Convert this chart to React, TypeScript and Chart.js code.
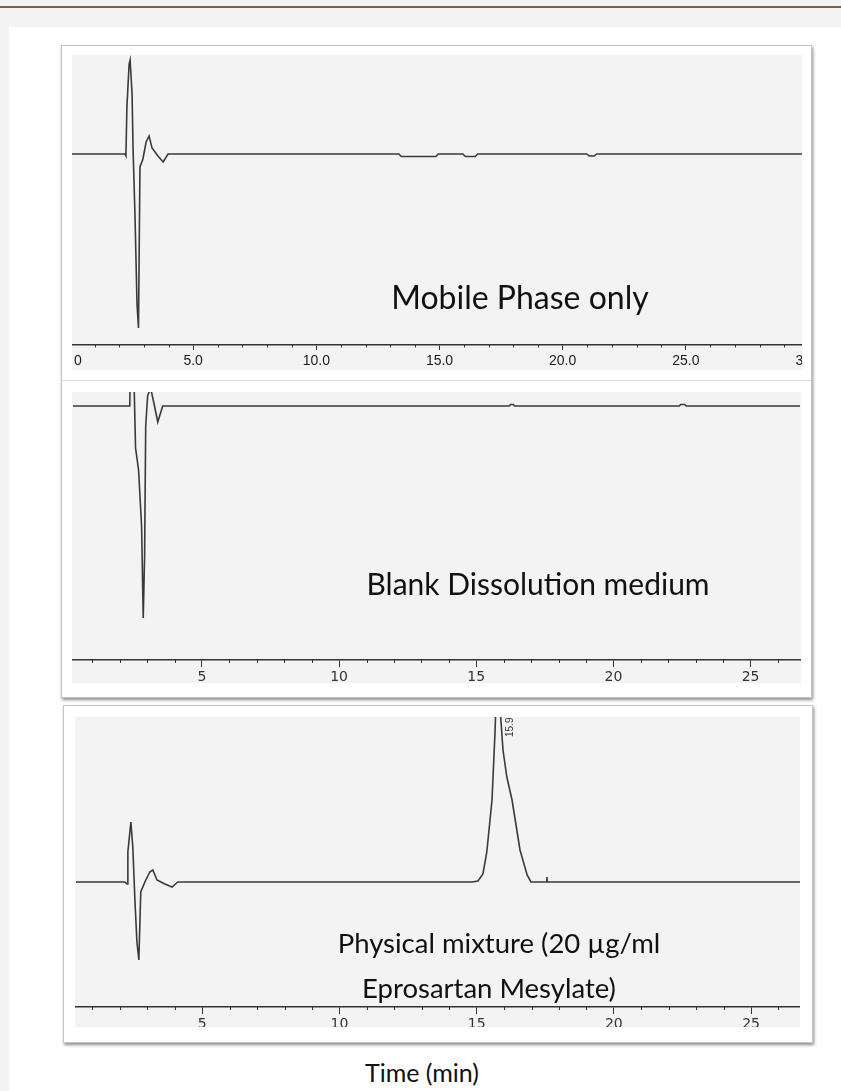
import React, { useEffect, useRef } from "react";
import { Chart, registerables } from "chart.js";

Chart.register(...registerables);

// ---------- DATA ----------
// Panel 1: Mobile Phase only (time in min, signal in detector units, baseline = 0)
const mobileTime = [0, 2.23, 2.27, 2.31, 2.4, 2.44, 2.52, 2.56, 2.64, 2.72, 2.78, 2.84, 2.96, 3.09, 3.21, 3.33, 3.57, 3.78, 3.98, 13.35, 13.45, 14.85, 14.95, 15.95, 16.05, 16.45, 16.55, 20.98, 21.08, 21.28, 21.38, 30];
const mobileSignal = [0, 0, -2, 47, 90, 94, 60, 5, -63, -150, -174, -13, -5, 12, 18, 6, -2, -8, 0, 0, -2.5, -2.5, 0, 0, -2.5, -2.5, 0, 0, -2, -2, 0, 0];
const mobileTicks = [0, 5, 10, 15, 20, 25, 30];

// Panel 2: Blank Dissolution medium
const blankTime = [0.3, 2.37, 2.4, 2.47, 2.58, 2.69, 2.8, 2.86, 2.91, 2.95, 3.02, 3.13, 3.24, 3.39, 3.57, 16.2, 16.25, 16.35, 16.4, 22.4, 22.45, 22.6, 22.65, 26.8];
const blankSignal = [0, 0, 80, 90, -42, -64, -120, -212, -150, -20, 10, 18, 4, -16, 0, 0, 1.5, 1.5, 0, 0, 1.5, 1.5, 0, 0];
const blankTicks = [5, 10, 15, 20, 25];

// Panel 3: Physical mixture (20 µg/ml Eprosartan Mesylate)
const mixTime = [0.4, 2.18, 2.26, 2.29, 2.4, 2.47, 2.55, 2.62, 2.69, 2.76, 2.91, 3.09, 3.2, 3.35, 3.64, 3.9, 4.11, 14.83, 15.05, 15.23, 15.37, 15.56, 15.67, 15.76, 15.85, 15.96, 16.1, 16.29, 16.58, 16.84, 16.98, 17.54, 17.56, 17.58, 26.82];
const mixSignal = [0, 0, -2, 30, 60, 35, -20, -60, -78, -10, 0, 10, 12, 2, -2, -5, 0, 0, 1, 8, 30, 82, 150, 225, 175, 132, 105, 82, 32, 7, 0, 0, 5, 0, 0];
const mixTicks = [5, 10, 15, 20, 25];
const mixPeakLabel = "15.9";
const mixPeakTime = 15.9;

// ---------- PLUGINS ----------
const minorTicksPlugin = {
  id: "minorTicks",
  afterDraw(chart: any, _args: any, opts: any) {
    const s = chart.scales.x;
    const ctx = chart.ctx;
    ctx.save();
    ctx.strokeStyle = opts.color || "#333";
    ctx.lineWidth = 1;
    for (let t = Math.ceil(s.min); t <= s.max + 1e-9; t++) {
      if (t % 5 === 0) continue;
      const x = Math.round(s.getPixelForValue(t)) + 0.5;
      ctx.beginPath();
      ctx.moveTo(x, s.top);
      ctx.lineTo(x, s.top + (opts.length || 3));
      ctx.stroke();
    }
    ctx.restore();
  },
};

const peakLabelPlugin = {
  id: "peakLabel",
  afterDatasetsDraw(chart: any, _args: any, opts: any) {
    if (!opts || !opts.text) return;
    const s = chart.scales.x;
    const ctx = chart.ctx;
    const x = s.getPixelForValue(opts.time) + (opts.dx || 0);
    const y = chart.chartArea.top + (opts.dy || 0);
    ctx.save();
    ctx.translate(x, y);
    ctx.rotate(-Math.PI / 2);
    ctx.font = opts.font || "10px 'Liberation Sans', Arial";
    ctx.fillStyle = opts.color || "#333";
    ctx.textAlign = "left";
    ctx.textBaseline = "middle";
    ctx.fillText(opts.text, 0, 0);
    ctx.restore();
  },
};

type PanelProps = {
  time: number[];
  signal: number[];
  ticks: number[];
  xMin: number;
  xMax: number;
  yMin: number;
  yMax: number;
  canvasLeft: number;
  canvasW: number;
  canvasH: number;
  axisH: number;
  majorLen: number;
  minorLen: number;
  tickPad: number;
  tickFont: any;
  tickColor: string;
  fmt: (v: number) => string;
  box: { left: number; top: number; width: number; height: number };
  peak?: any;
};

function Panel(p: PanelProps) {
  const ref = useRef<HTMLCanvasElement | null>(null);
  useEffect(() => {
    if (!ref.current) return;
    const isMajor = (v: number) => p.ticks.some((t) => Math.abs(t - v) < 1e-6);
    const chart = new Chart(ref.current, {
      type: "line",
      data: {
        datasets: [
          {
            data: p.time.map((t, i) => ({ x: t, y: p.signal[i] })),
            borderColor: "#3a3a3a",
            borderWidth: 1.6,
            pointRadius: 0,
            tension: 0,
            fill: false,
          },
        ],
      },
      options: {
        animation: false,
        responsive: false,
        maintainAspectRatio: false,
        layout: { padding: { left: 20, right: 20, top: 0, bottom: 0 } },
        plugins: {
          legend: { display: false },
          tooltip: { enabled: false },
          minorTicks: { color: "#333", length: p.minorLen },
          peakLabel: p.peak || {},
        } as any,
        scales: {
          x: {
            type: "linear",
            min: p.xMin,
            max: p.xMax,
            afterFit: (s: any) => {
              s.height = p.axisH;
              s.paddingLeft = 0;
              s.paddingRight = 0;
            },
            grid: {
              drawOnChartArea: false,
              drawTicks: true,
              tickLength: p.majorLen,
              tickWidth: 1,
              tickColor: (c: any) => (c.tick && isMajor(c.tick.value) ? "#333" : "rgba(0,0,0,0)"),
            },
            border: { display: true, color: "#333", width: 1.5 },
            ticks: {
              stepSize: 1,
              autoSkip: false,
              maxRotation: 0,
              minRotation: 0,
              padding: p.tickPad,
              font: p.tickFont,
              color: p.tickColor,
              callback: (v: any) => (isMajor(Number(v)) ? p.fmt(Number(v)) : ""),
            },
          },
          y: { display: false, min: p.yMin, max: p.yMax },
        },
      } as any,
      plugins: [minorTicksPlugin, peakLabelPlugin] as any,
    });
    return () => chart.destroy();
  }, []);
  return (
    <div
      style={{
        position: "absolute",
        left: p.box.left,
        top: p.box.top,
        width: p.box.width,
        height: p.box.height,
        overflow: "hidden",
        background: "#f3f3f3",
      }}
    >
      <canvas
        ref={ref}
        width={p.canvasW}
        height={p.canvasH}
        style={{ position: "absolute", left: p.canvasLeft, top: 0, width: p.canvasW, height: p.canvasH }}
      />
    </div>
  );
}

const labelFont = "Lato, 'Open Sans', sans-serif";

function Label(props: { text: string; cx: number; baseline: number; size: number }) {
  const top = props.baseline - 0.887 * props.size;
  return (
    <div
      style={{
        position: "absolute",
        left: props.cx,
        top,
        transform: "translateX(-50%)",
        whiteSpace: "nowrap",
        fontFamily: labelFont,
        fontSize: props.size,
        lineHeight: 1,
        color: "#111",
      }}
    >
      {props.text}
    </div>
  );
}

const boxStyle: React.CSSProperties = {
  position: "absolute",
  background: "#fff",
  border: "1px solid #c6c6c6",
  boxShadow: "1px 2px 3px rgba(0,0,0,0.45)",
  boxSizing: "border-box",
};

export default function App() {
  return (
    <div style={{ position: "absolute", left: 0, top: 0, width: 841, height: 1091, background: "#f3f3f3", overflow: "hidden" }}>
      <div style={{ position: "absolute", left: 0, top: 6, width: 841, height: 2, background: "#8e5a48" }} />
      <div style={{ position: "absolute", left: 9, top: 27, right: 0, bottom: 0, background: "#fff" }} />

      <div style={{ ...boxStyle, left: 61, top: 45, width: 751, height: 653 }} />
      <div style={{ position: "absolute", left: 62, top: 380, width: 749, height: 1, background: "#d9d9d9" }} />
      <div style={{ ...boxStyle, left: 63, top: 705, width: 750, height: 338 }} />

      <Panel
        time={mobileTime}
        signal={mobileSignal}
        ticks={mobileTicks}
        xMin={0}
        xMax={30}
        yMin={-191}
        yMax={99}
        canvasLeft={-22}
        canvasW={779}
        canvasH={315}
        axisH={25}
        majorLen={5}
        minorLen={2.5}
        tickPad={3}
        tickFont={{ family: "'Liberation Sans', Arial", size: 14 }}
        tickColor="#1a1a1a"
        fmt={(v) => (v === 0 ? "    0" : v.toFixed(1))}
        box={{ left: 72, top: 55, width: 730, height: 315 }}
      />
      <Panel
        time={blankTime}
        signal={blankSignal}
        ticks={blankTicks}
        xMin={0.3}
        xMax={26.8}
        yMin={-254}
        yMax={14}
        canvasLeft={-19}
        canvasW={767}
        canvasH={293}
        axisH={25}
        majorLen={7}
        minorLen={3}
        tickPad={2}
        tickFont={{ family: "'DejaVu Sans', Arial", size: 14 }}
        tickColor="#333"
        fmt={(v) => String(v)}
        box={{ left: 72, top: 392, width: 729, height: 291 }}
      />
      <Panel
        time={mixTime}
        signal={mixSignal}
        ticks={mixTicks}
        xMin={0.4}
        xMax={26.82}
        yMin={-125}
        yMax={165}
        canvasLeft={-19}
        canvasW={765}
        canvasH={315}
        axisH={25}
        majorLen={7}
        minorLen={3}
        tickPad={2}
        tickFont={{ family: "'DejaVu Sans', Arial", size: 14 }}
        tickColor="#333"
        fmt={(v) => String(v)}
        box={{ left: 75, top: 717, width: 725, height: 310 }}
        peak={{ text: mixPeakLabel, time: mixPeakTime, dx: 9, dy: 20, font: "10px 'Liberation Sans', Arial", color: "#333" }}
      />

      <Label text="Mobile Phase only" cx={520} baseline={309} size={32} />
      <Label text="Blank Dissolution medium" cx={538} baseline={595} size={30} />
      <Label text="Physical mixture (20 µg/ml" cx={499} baseline={953} size={27.5} />
      <Label text="Eprosartan Mesylate)" cx={489} baseline={998} size={27.5} />
      <Label text="Time (min)" cx={422} baseline={1082} size={25} />
    </div>
  );
}
